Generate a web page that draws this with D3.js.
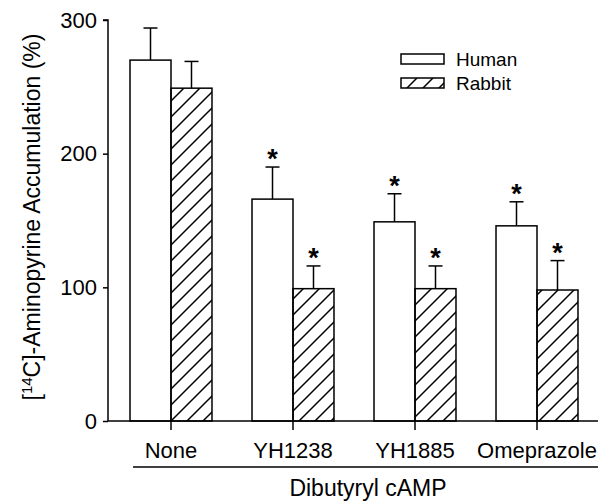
<!DOCTYPE html>
<html>
<head>
<meta charset="utf-8">
<script src="https://cdn.jsdelivr.net/npm/d3@7"></script>
<style>
  body { margin: 0; background: #fff; }
  svg { display: block; }
  text { font-family: "Liberation Sans", Arial, sans-serif; fill: #000; }
</style>
</head>
<body>
<div id="chart"></div>
<script>
// data
const categories = ["None", "YH1238", "YH1885", "Omeprazole"];
const seriesNames = ["Human", "Rabbit"];
const humanMean = [270, 166, 149, 146];
const humanErr = [24, 24, 21, 18];
const rabbitMean = [249, 99, 99, 98];
const rabbitErr = [20, 17, 17, 22];
const humanSig = [false, true, true, true];
const rabbitSig = [false, true, true, true];
const yTicks = [0, 100, 200, 300];

const width = 599, height = 504;

const svg = d3.select("#chart")
    .append("svg")
    .attr("width", width)
    .attr("height", height);

// hatch pattern for rabbit bars
svg.append("defs")
    .append("pattern")
    .attr("id", "hatch")
    .attr("patternUnits", "userSpaceOnUse")
    .attr("width", 16)
    .attr("height", 16)
    .append("path")
    .attr("d", "M-4,4 L4,-4 M0,16 L16,0 M12,20 L20,12")
    .attr("stroke", "#000")
    .attr("stroke-width", 1.5);

const yScale = d3.scaleLinear().domain([0, 300]).range([421, 20]);

const xScale = d3.scaleBand()
    .domain(categories)
    .range([110, 598])
    .paddingInner(0.328)
    .paddingOuter(0.164);

const xInner = d3.scaleBand()
    .domain(seriesNames)
    .range([0, xScale.bandwidth()]);

// build rows for drawing
const rows = [];
categories.forEach((c, i) => {
    rows.push({cat: c, series: "Human", mean: humanMean[i], err: humanErr[i], sig: humanSig[i]});
    rows.push({cat: c, series: "Rabbit", mean: rabbitMean[i], err: rabbitErr[i], sig: rabbitSig[i]});
});

const fillFor = s => s === "Human" ? "#fff" : "url(#hatch)";
const barX = d => xScale(d.cat) + xInner(d.series);
const barMid = d => barX(d) + xInner.bandwidth() / 2;

// error bars (drawn first, bar tops cover their bottoms)
const eb = svg.append("g").attr("stroke", "#000").attr("stroke-width", 1.5);
eb.selectAll(".err-v")
    .data(rows)
    .enter()
    .append("line")
    .attr("x1", barMid).attr("x2", barMid)
    .attr("y1", d => yScale(d.mean))
    .attr("y2", d => yScale(d.mean + d.err));
eb.selectAll(".err-cap")
    .data(rows)
    .enter()
    .append("line")
    .attr("x1", d => barMid(d) - 7).attr("x2", d => barMid(d) + 7)
    .attr("y1", d => yScale(d.mean + d.err))
    .attr("y2", d => yScale(d.mean + d.err));

// bars
svg.selectAll(".bar")
    .data(rows)
    .enter()
    .append("rect")
    .attr("class", "bar")
    .attr("x", barX)
    .attr("y", d => yScale(d.mean))
    .attr("width", xInner.bandwidth())
    .attr("height", d => yScale(0) - yScale(d.mean))
    .attr("fill", d => fillFor(d.series))
    .attr("stroke", "#000")
    .attr("stroke-width", 1.5);

// significance stars
svg.selectAll(".star")
    .data(rows.filter(d => d.sig))
    .enter()
    .append("text")
    .attr("x", barMid)
    .attr("y", d => yScale(d.mean + d.err) + 1)
    .attr("text-anchor", "middle")
    .attr("font-size", 27)
    .attr("font-weight", "bold")
    .text("*");

// y axis
const yAxis = d3.axisLeft(yScale).tickValues(yTicks).tickSize(5).tickPadding(6);
const gy = svg.append("g")
    .attr("transform", "translate(108,0)")
    .call(yAxis);
gy.select(".domain").attr("d", `M-5,${yScale(300)}H0V${yScale(0)}`).attr("stroke-width", 1.5);
gy.selectAll(".tick line").attr("stroke-width", 1.5);
gy.selectAll("text")
    .attr("font-family", "Liberation Sans, Arial, sans-serif")
    .attr("font-size", 22)
    .attr("fill", "#000");

// x baseline and category ticks
svg.append("line")
    .attr("x1", 108).attr("x2", 598)
    .attr("y1", yScale(0)).attr("y2", yScale(0))
    .attr("stroke", "#000").attr("stroke-width", 1.5);

svg.selectAll(".cat-tick")
    .data(categories)
    .enter()
    .append("line")
    .attr("x1", d => xScale(d) + xScale.bandwidth() / 2)
    .attr("x2", d => xScale(d) + xScale.bandwidth() / 2)
    .attr("y1", yScale(0))
    .attr("y2", yScale(0) + 9)
    .attr("stroke", "#000").attr("stroke-width", 1.5);

svg.selectAll(".cat-label")
    .data(categories)
    .enter()
    .append("text")
    .attr("x", d => xScale(d) + xScale.bandwidth() / 2)
    .attr("y", 458)
    .attr("text-anchor", "middle")
    .attr("font-size", 22)
    .text(d => d);

// group underline and label
svg.append("line")
    .attr("x1", 133).attr("x2", 598)
    .attr("y1", 467).attr("y2", 467)
    .attr("stroke", "#000").attr("stroke-width", 1.5);

svg.append("text")
    .attr("x", 368)
    .attr("y", 496)
    .attr("text-anchor", "middle")
    .attr("font-size", 23)
    .text("Dibutyryl cAMP");

// y title
const yTitle = svg.append("text")
    .attr("transform", "translate(40,217) rotate(-90)")
    .attr("text-anchor", "middle")
    .attr("font-size", 23);
yTitle.append("tspan").text("[");
yTitle.append("tspan").attr("dy", -8).attr("font-size", 15).text("14");
yTitle.append("tspan").attr("dy", 8).text("C]-Aminopyrine Accumulation (%)");

// legend
const legend = svg.append("g").attr("transform", "translate(401,54)");
const li = legend.selectAll(".legend-item")
    .data(seriesNames)
    .enter()
    .append("g")
    .attr("transform", (d, i) => `translate(0,${i * 24})`);
li.append("rect")
    .attr("width", 43)
    .attr("height", 10)
    .attr("fill", d => fillFor(d))
    .attr("stroke", "#000")
    .attr("stroke-width", 1.5);
li.append("text")
    .attr("x", 55)
    .attr("y", 12)
    .attr("font-size", 19)
    .text(d => d);
</script>
</body>
</html>
